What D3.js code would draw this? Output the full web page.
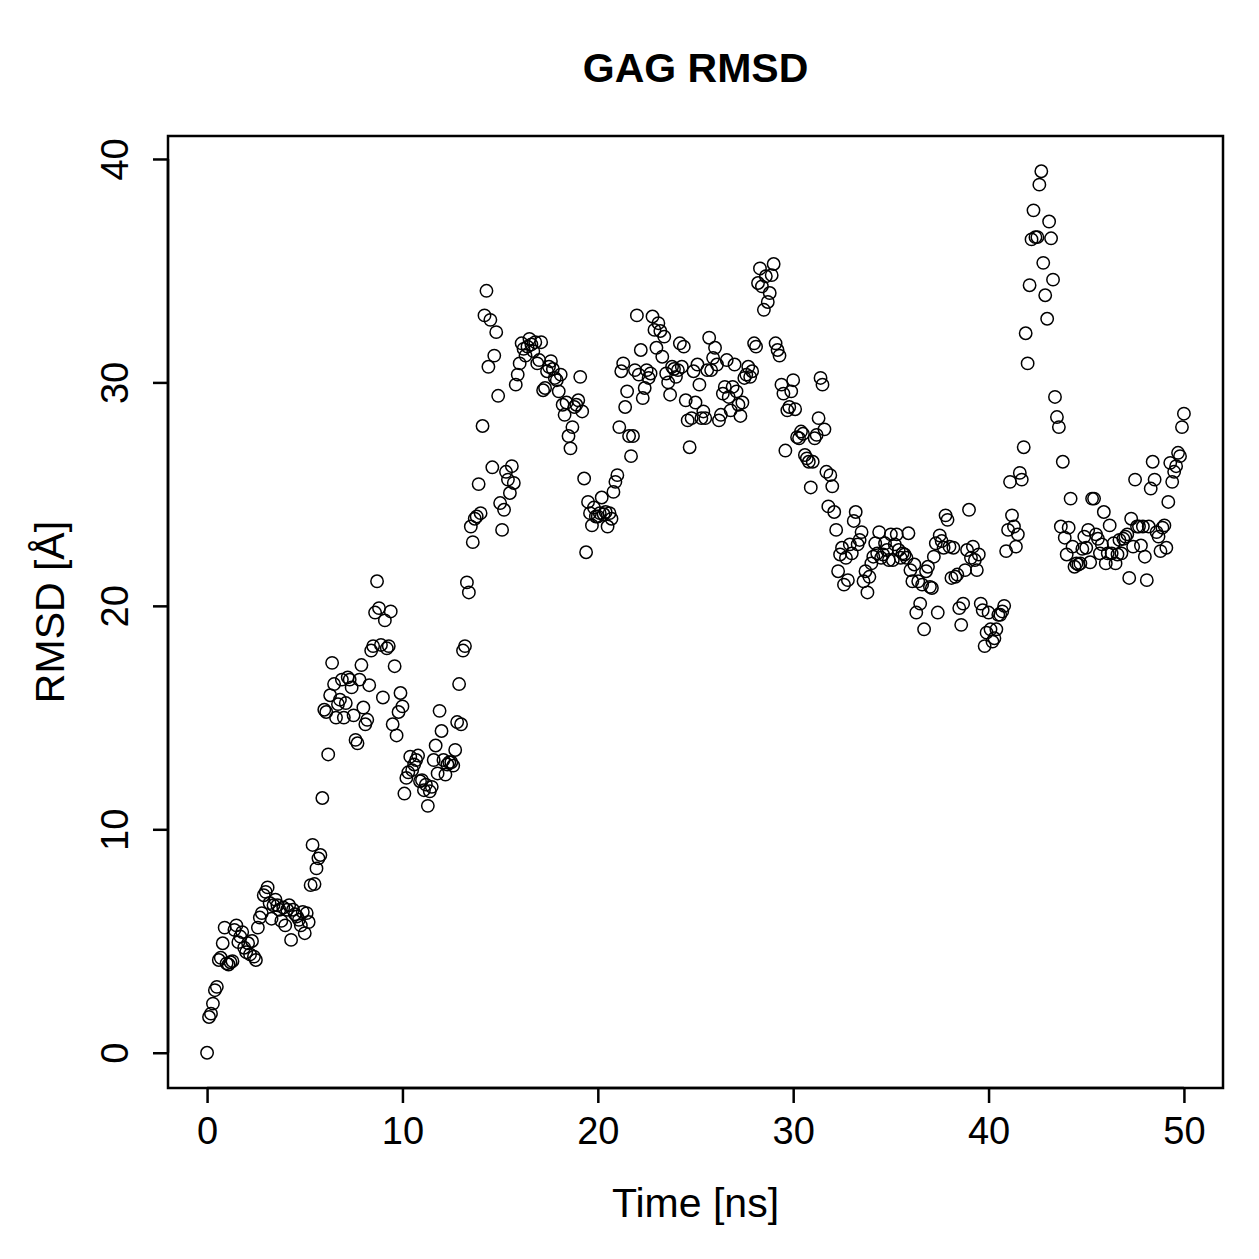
<!DOCTYPE html>
<html lang="en">
<head>
    <meta charset="UTF-8">
    <title>GAG RMSD</title>
    <script src="https://d3js.org/d3.v7.min.js"></script>
    <style>
        body {
            margin: 0;
            background: white;
            font-family: "Liberation Sans", Arial, Helvetica, sans-serif;
        }
    </style>
</head>
<body>
    <svg width="1259" height="1259"></svg>
    <script>
        const rmsd = [
            0, 1.6, 1.75, 2.2, 2.8, 2.95, 4.15, 4.25, 4.9, 5.6,
            4.0, 3.95, 4.05, 4.1, 5.5, 5.7, 4.95, 5.2, 5.4, 4.7,
            4.5, 4.9, 4.4, 5.0, 4.3, 4.15, 5.6, 6.05, 6.25, 7.05,
            7.2, 7.4, 6.7, 6.0, 6.6, 6.85, 6.6, 6.4, 5.9, 6.5,
            5.7, 6.4, 6.6, 5.05, 6.4, 6.2, 6.1, 5.95, 5.7, 6.3,
            5.35, 6.25, 5.85, 7.5, 9.3, 7.55, 8.25, 8.7, 8.85, 11.4,
            15.35, 15.25, 13.35, 16.0, 17.45, 16.5, 15.0, 15.6, 15.8, 16.7,
            15.0, 15.65, 16.8, 16.7, 16.35, 15.1, 14.0, 13.85, 16.7, 17.35,
            15.45, 14.7, 14.9, 16.45, 18.0, 18.2, 19.7, 21.1, 19.9, 18.25,
            15.9, 19.35, 18.1, 18.2, 19.75, 14.7, 17.3, 14.2, 15.25, 16.1,
            15.5, 11.6, 12.3, 12.55, 13.25, 12.65, 12.9, 13.1, 13.3, 12.15,
            12.2, 11.75, 12.0, 11.05, 11.7, 11.9, 13.1, 13.75, 12.5, 15.3,
            14.4, 13.1, 12.45, 12.9, 13.0, 13.0, 12.85, 13.55, 14.8, 16.5,
            14.7, 18.0, 18.2, 21.05, 20.6, 23.55, 22.85, 23.9, 24.0, 25.45,
            24.15, 28.05, 33.0, 34.1, 30.7, 32.8, 26.2, 31.2, 32.25, 29.4,
            24.6, 23.4, 24.3, 26.0, 25.65, 25.05, 26.25, 25.5, 29.9, 30.35,
            30.85, 31.75, 31.5, 31.2, 31.6, 31.95, 31.7, 31.4, 31.8, 30.85,
            31.0, 31.8, 29.65, 29.75, 30.5, 30.7, 30.95, 30.6, 30.2, 30.1,
            29.6, 30.35, 29.0, 28.55, 29.1, 27.6, 27.05, 28.0, 28.9, 29.0,
            29.2, 30.25, 28.7, 25.7, 22.4, 24.65, 24.15, 23.6, 24.4, 24.0,
            24.0, 24.15, 24.85, 24.1, 24.2, 23.55, 24.15, 23.9, 25.1, 25.55,
            25.85, 28.0, 30.5, 30.85, 28.9, 29.6, 27.6, 26.7, 27.6, 30.55,
            33.0, 30.35, 31.45, 29.3, 29.75, 30.55, 30.2, 30.4, 32.95, 32.35,
            31.55, 32.65, 32.3, 31.15, 32.05, 30.4, 30.0, 29.45, 30.7, 30.6,
            30.25, 30.55, 31.75, 30.7, 31.6, 29.2, 28.3, 27.1, 28.4, 30.5,
            29.1, 30.8, 29.9, 28.4, 28.7, 28.4, 30.55, 32.0, 30.55, 31.1,
            31.55, 30.8, 28.3, 28.55, 29.5, 29.8, 31.0, 29.35, 28.75, 29.8,
            30.8, 29.6, 29.0, 28.5, 29.1, 30.2, 30.35, 30.7, 30.25, 30.5,
            31.75, 31.6, 34.45, 35.1, 34.3, 33.25, 34.75, 33.6, 34.0, 34.8,
            35.3, 31.75, 31.45, 31.2, 29.9, 29.5, 26.95, 28.75, 28.9, 29.6,
            30.1, 28.8, 27.55, 27.5, 27.8, 27.7, 26.75, 26.6, 26.45, 25.3,
            26.45, 27.5, 27.65, 28.4, 30.2, 29.9, 27.9, 26.0, 24.45, 25.85,
            25.35, 24.2, 23.4, 21.55, 22.3, 22.6, 20.95, 22.15, 21.15, 22.75,
            22.35, 23.8, 24.2, 22.75, 22.95, 23.3, 21.1, 21.55, 20.6, 21.3,
            21.9, 22.2, 22.8, 22.35, 23.3, 22.15, 22.3, 22.8, 22.5, 22.05,
            23.2, 22.05, 22.75, 23.2, 22.5, 22.15, 22.35, 22.3, 22.15, 23.25,
            21.6, 21.1, 21.85, 19.7, 21.1, 20.1, 20.95, 18.95, 21.55, 21.75,
            20.85, 20.8, 22.2, 22.8, 19.7, 23.15, 22.9, 22.6, 24.05, 23.85,
            22.65, 21.25, 22.6, 21.3, 21.4, 19.9, 19.15, 20.1, 21.6, 22.5,
            24.3, 22.15, 22.65, 22.05, 21.6, 22.3, 20.1, 19.8, 18.2, 18.8,
            19.7, 18.95, 18.4, 18.55, 18.95, 19.6, 19.6, 19.75, 20.0, 22.45,
            23.4, 25.55, 24.05, 23.55, 22.65, 23.2, 25.95, 25.65, 27.1, 32.2,
            30.85, 34.35, 36.4, 37.7, 36.5, 36.5, 38.85, 39.45, 35.35, 33.9,
            32.85, 37.2, 36.45, 34.6, 29.35, 28.45, 28.0, 23.55, 26.45, 23.05,
            22.3, 23.5, 24.8, 22.65, 21.75, 21.9, 21.85, 21.9, 22.55, 23.1,
            22.6, 23.4, 21.95, 24.8, 24.8, 23.2, 23.0, 22.35, 22.75, 24.2,
            21.9, 22.35, 23.6, 22.35, 22.8, 21.9, 22.3, 22.95, 22.35, 23.0,
            23.1, 23.2, 21.25, 23.9, 22.65, 25.65, 23.55, 23.55, 22.7, 23.55,
            22.2, 21.15, 23.55, 25.25, 26.45, 25.65, 23.3, 23.1, 22.45, 23.5,
            23.6, 22.6, 24.65, 26.4, 25.55, 26.0, 26.25, 26.85, 26.7, 28.0, 28.6
        ];
        const timeStep = 0.1; // ns between frames

        const xTicks = [0, 10, 20, 30, 40, 50];
        const yTicks = [0, 10, 20, 30, 40];

        const title = "GAG RMSD";
        const xLabel = "Time [ns]";
        const yLabel = "RMSD [Å]";

        const data = rmsd.map((v, i) => ({ t: i * timeStep, v: v }));

        // plot box (R style, 4% padding around the data range)
        const box = { left: 168, right: 1223, top: 136, bottom: 1088 };

        const x = d3.scaleLinear()
            .domain([-2, 52])
            .range([box.left, box.right]);

        const y = d3.scaleLinear()
            .domain([-1.578, 41.028])
            .range([box.bottom, box.top]);

        const svg = d3.select("svg");

        // x axis
        const xAxis = svg.append("g")
            .attr("transform", `translate(0,${box.bottom})`)
            .call(d3.axisBottom(x).tickValues(xTicks).tickFormat(d3.format("d")).tickSize(15).tickPadding(14));
        xAxis.select(".domain")
            .attr("d", `M${x(0)},0H${x(50)}`)
            .attr("stroke-width", 2.5);

        // y axis
        const yAxis = svg.append("g")
            .attr("transform", `translate(${box.left},0)`)
            .call(d3.axisLeft(y).tickValues(yTicks).tickFormat(d3.format("d")).tickSize(15));
        yAxis.select(".domain")
            .attr("d", `M0,${y(0)}V${y(40)}`)
            .attr("stroke-width", 2.5);

        svg.selectAll(".tick line").attr("stroke-width", 2.5).attr("stroke", "black");
        svg.selectAll(".tick text")
            .attr("font-family", "'Liberation Sans', Arial, sans-serif")
            .attr("font-size", 38)
            .attr("fill", "black");

        // rotate y tick labels like R's default las=0
        yAxis.selectAll(".tick text")
            .attr("x", null)
            .attr("dy", null)
            .attr("text-anchor", "middle")
            .attr("transform", "translate(-40,0) rotate(-90)");

        // plot frame
        svg.append("rect")
            .attr("x", box.left)
            .attr("y", box.top)
            .attr("width", box.right - box.left)
            .attr("height", box.bottom - box.top)
            .attr("fill", "none")
            .attr("stroke", "black")
            .attr("stroke-width", 2.5);

        // points
        svg.append("g")
            .selectAll("circle")
            .data(data)
            .enter()
            .append("circle")
            .attr("cx", d => x(d.t))
            .attr("cy", d => y(d.v))
            .attr("r", 6.2)
            .attr("fill", "none")
            .attr("stroke", "black")
            .attr("stroke-width", 1.5);

        // title and axis labels
        svg.append("text")
            .attr("x", (box.left + box.right) / 2)
            .attr("y", 82)
            .attr("text-anchor", "middle")
            .attr("font-size", 41)
            .attr("font-weight", "bold")
            .text(title);

        svg.append("text")
            .attr("x", (box.left + box.right) / 2)
            .attr("y", 1217)
            .attr("text-anchor", "middle")
            .attr("font-size", 41)
            .text(xLabel);

        svg.append("text")
            .attr("transform", `translate(64,${(box.top + box.bottom) / 2}) rotate(-90)`)
            .attr("text-anchor", "middle")
            .attr("font-size", 41)
            .text(yLabel);
    </script>
</body>
</html>
